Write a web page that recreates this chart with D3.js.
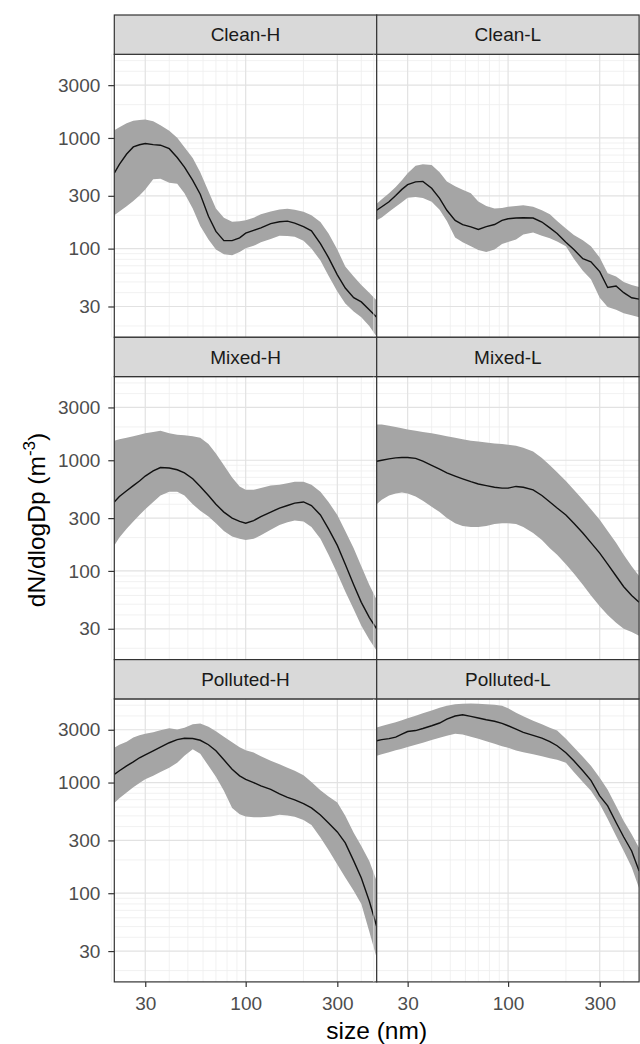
<!DOCTYPE html>
<html>
<head>
<meta charset="utf-8">
<script src="https://cdn.jsdelivr.net/npm/d3@7"></script>
<style>
  html, body { margin: 0; padding: 0; background: #fff; }
  svg { display: block; }
  text { font-family: "Liberation Sans", Arial, sans-serif; }
</style>
</head>
<body>
<svg id="chart" width="640" height="1044"></svg>
<script>
// Particle number size distributions: median and interquartile band per regime
const sizes = [20.7, 22, 24, 26, 28, 30, 33, 36, 40, 44, 48, 53, 58, 64, 70, 77, 85, 93, 100,
  110, 120, 135, 150, 165, 180, 200, 220, 245, 270, 300, 330, 365, 400, 440, 481];

const panelNames = ["Clean-H", "Clean-L", "Mixed-H", "Mixed-L", "Polluted-H", "Polluted-L"];

const cleanHMedian = [480, 578, 716, 830, 868, 890, 870, 860, 800, 666, 546, 414, 310, 196, 143, 118, 118, 125, 138,
  146, 154, 168, 175, 177, 170, 158, 145, 111, 83, 58, 44, 36, 33, 28, 24];
const cleanHLower = [200, 217, 241, 270, 302, 343, 423, 427, 394, 386, 316, 231, 160, 121, 98, 89, 87, 93, 101,
  106, 114, 122, 131, 130, 128, 118, 100, 78, 57, 41, 32, 27, 24, 20, 16];
const cleanHUpper = [1175, 1250, 1357, 1429, 1450, 1470, 1414, 1302, 1162, 1005, 824, 659, 490, 330, 231, 190, 175, 177, 180,
  190, 204, 217, 226, 229, 224, 215, 200, 174, 137, 98, 69, 56, 47, 40, 34];

const cleanLMedian = [222, 239, 265, 302, 343, 378, 401, 405, 351, 285, 222, 180, 165, 157, 149, 158, 165, 180, 186,
  189, 190, 189, 174, 154, 137, 114, 98, 81, 76, 62, 44.5, 46, 40, 36, 35];
const cleanLLower = [180, 191, 215, 239, 262, 288, 293, 286, 265, 224, 178, 126, 114, 105, 97, 93, 98, 110, 115,
  121, 134, 140, 131, 124, 116, 105, 81, 63, 53, 36, 29.7, 28, 26, 25, 24];
const cleanLUpper = [255, 279, 316, 361, 414, 479, 560, 580, 570, 489, 405, 366, 340, 316, 267, 243, 231, 233, 239,
  243, 246, 239, 222, 204, 178, 152, 133, 119, 105, 83, 60, 56, 50, 47, 45];

const mixedHMedian = [420, 470, 530, 590, 650, 720, 800, 860, 850, 820, 770, 680, 580, 480, 400, 340, 300, 280, 270,
  285, 310, 340, 370, 390, 410, 420, 390, 320, 240, 170, 115, 75, 52, 38, 30];
const mixedHLower = [170, 200, 240, 280, 320, 360, 420, 480, 520, 520, 480, 400, 350, 310, 270, 230, 205, 195, 190,
  195, 210, 235, 260, 275, 285, 280, 250, 195, 140, 95, 65, 45, 32, 24, 19];
const mixedHUpper = [1500, 1550, 1600, 1650, 1700, 1750, 1800, 1850, 1750, 1700, 1680, 1650, 1600, 1400, 1150, 900, 700, 580, 540,
  540, 560, 590, 600, 620, 640, 640, 600, 520, 420, 320, 230, 160, 110, 75, 55];

const mixedLMedian = [980, 1000, 1030, 1050, 1060, 1060, 1040, 980, 900, 830, 770, 720, 680, 640, 610, 590, 570, 560, 560,
  580, 570, 540, 480, 420, 370, 320, 270, 220, 180, 145, 115, 90, 72, 60, 52];
const mixedLLower = [400, 440, 480, 500, 510, 500, 470, 430, 380, 340, 300, 270, 255, 250, 250, 255, 265, 270, 270,
  265, 250, 220, 190, 160, 140, 115, 95, 75, 60, 48, 40, 34, 30, 28, 26];
const mixedLUpper = [2100, 2100, 2050, 2000, 1950, 1900, 1850, 1800, 1750, 1700, 1650, 1600, 1550, 1500, 1480, 1450, 1420, 1400, 1380,
  1350, 1300, 1200, 1050, 900, 780, 650, 540, 440, 360, 290, 230, 180, 140, 110, 90];

const pollutedHMedian = [1186, 1277, 1416, 1539, 1674, 1782, 1937, 2085, 2290, 2440, 2510, 2500, 2410, 2196, 1937, 1605, 1317, 1150, 1070,
  1000, 934, 868, 790, 735, 697, 644, 590, 510, 431, 358, 285, 196, 137, 85, 50];
const pollutedHLower = [655, 720, 813, 906, 993, 1070, 1150, 1248, 1359, 1508, 1745, 1998, 1820, 1416, 1127, 842, 590, 516, 494,
  485, 487, 494, 513, 505, 490, 459, 414, 318, 246, 182, 139, 105, 80, 45, 26];
const pollutedHUpper = [2062, 2196, 2338, 2556, 2673, 2758, 2844, 2969, 3096, 3012, 3130, 3370, 3425, 3200, 2906, 2590, 2316, 2085, 1959,
  1867, 1727, 1573, 1463, 1359, 1277, 1162, 1014, 851, 750, 662, 500, 351, 267, 196, 129];

const pollutedLMedian = [2384, 2440, 2494, 2570, 2740, 2890, 2950, 3080, 3260, 3450, 3750, 3995, 4100, 3960, 3830, 3690, 3580, 3425, 3260,
  3040, 2844, 2673, 2520, 2338, 2150, 1860, 1573, 1277, 1047, 758, 615, 436, 322, 241, 159];
const pollutedLLower = [1745, 1800, 1880, 1959, 2020, 2094, 2196, 2290, 2420, 2540, 2650, 2765, 2720, 2600, 2494, 2365, 2240, 2130, 2062,
  1950, 1880, 1800, 1727, 1657, 1605, 1508, 1248, 1014, 842, 641, 469, 329, 241, 172, 111];
const pollutedLUpper = [3150, 3245, 3385, 3500, 3660, 3820, 4010, 4230, 4480, 4740, 4940, 5100, 5150, 5190, 5150, 5100, 5040, 4940, 4690,
  4280, 3970, 3620, 3370, 3130, 2950, 2494, 2085, 1712, 1416, 1104, 859, 615, 450, 341, 256];

const xTicks = [30, 100, 300];
const yTicks = [30, 100, 300, 1000, 3000];
const xMinor = [20, 40, 50, 60, 70, 80, 90, 200, 400];
const yMinor = [20, 40, 50, 60, 70, 80, 90, 200, 400, 500, 600, 700, 800, 900, 2000, 4000, 5000];

const series = [
  { name: panelNames[0], median: cleanHMedian, lower: cleanHLower, upper: cleanHUpper },
  { name: panelNames[1], median: cleanLMedian, lower: cleanLLower, upper: cleanLUpper },
  { name: panelNames[2], median: mixedHMedian, lower: mixedHLower, upper: mixedHUpper },
  { name: panelNames[3], median: mixedLMedian, lower: mixedLLower, upper: mixedLUpper },
  { name: panelNames[4], median: pollutedHMedian, lower: pollutedHLower, upper: pollutedHUpper },
  { name: panelNames[5], median: pollutedLMedian, lower: pollutedLLower, upper: pollutedLUpper }
];

// Layout
const originX = 114.3, originY = 15;
const panelW = 262.4, stripH = 39.3, panelH = 283, rowH = stripH + panelH;
const tickFont = 19, titleFont = 24.5;

const x = d3.scaleLog().domain([20.7, 481]).range([0, panelW]);
const y = d3.scaleLog().domain([15.8, 5700]).range([panelH, 0]);

const svg = d3.select("#chart");

const area = d3.area()
  .x(d => x(d.s))
  .y0(d => y(d.lo))
  .y1(d => y(d.hi));
const line = d3.line()
  .x(d => x(d.s))
  .y(d => y(d.m));

series.forEach((p, i) => {
  const col = i % 2, row = Math.floor(i / 2);
  const px = originX + col * panelW;
  const sy = originY + row * rowH;
  const py = sy + stripH;
  const g = svg.append("g").attr("transform", `translate(${px},${py})`);

  g.append("rect").attr("width", panelW).attr("height", panelH).attr("fill", "#fff");

  const clipId = "clip" + i;
  g.append("clipPath").attr("id", clipId)
    .append("rect").attr("width", panelW).attr("height", panelH);

  // grid
  const grid = g.append("g");
  grid.selectAll("line.xmin").data(xMinor).join("line")
    .attr("x1", d => x(d)).attr("x2", d => x(d)).attr("y1", 0).attr("y2", panelH)
    .attr("stroke", "#ededed").attr("stroke-width", 0.8);
  grid.selectAll("line.ymin").data(yMinor).join("line")
    .attr("y1", d => y(d)).attr("y2", d => y(d)).attr("x1", 0).attr("x2", panelW)
    .attr("stroke", "#ededed").attr("stroke-width", 0.8);
  grid.selectAll("line.xmaj").data(xTicks).join("line")
    .attr("x1", d => x(d)).attr("x2", d => x(d)).attr("y1", 0).attr("y2", panelH)
    .attr("stroke", "#e2e2e2").attr("stroke-width", 1.2);
  grid.selectAll("line.ymaj").data(yTicks).join("line")
    .attr("y1", d => y(d)).attr("y2", d => y(d)).attr("x1", 0).attr("x2", panelW)
    .attr("stroke", "#e2e2e2").attr("stroke-width", 1.2);

  const data = sizes.map((s, k) => ({ s, m: p.median[k], lo: p.lower[k], hi: p.upper[k] }));
  const plot = g.append("g").attr("clip-path", `url(#${clipId})`);
  plot.append("path").datum(data).attr("d", area).attr("fill", "#a5a5a5");
  plot.append("path").datum(data).attr("d", line)
    .attr("fill", "none").attr("stroke", "#111").attr("stroke-width", 1.4);

  g.append("rect").attr("width", panelW).attr("height", panelH)
    .attr("fill", "none").attr("stroke", "#333").attr("stroke-width", 1.2);

  // strip
  const st = svg.append("g").attr("transform", `translate(${px},${sy})`);
  st.append("rect").attr("width", panelW).attr("height", stripH)
    .attr("fill", "#d9d9d9").attr("stroke", "#333").attr("stroke-width", 1.2);
  st.append("text").attr("x", panelW / 2).attr("y", stripH / 2 + 6.8)
    .attr("text-anchor", "middle").attr("font-size", tickFont).attr("fill", "#1a1a1a")
    .text(p.name);

  // y axis on left column
  if (col === 0) {
    const ax = svg.append("g").attr("transform", `translate(${px},${py})`)
      .call(d3.axisLeft(y).tickValues(yTicks).tickFormat(d3.format("d")).tickSize(6).tickPadding(8));
    ax.select(".domain").remove();
    ax.selectAll(".tick line").attr("stroke", "#333").attr("stroke-width", 1.2);
    ax.selectAll(".tick text").attr("font-size", tickFont).attr("fill", "#4d4d4d")
      .attr("font-family", "Liberation Sans, Arial, sans-serif");
  }
  // x axis on bottom row
  if (row === 2) {
    const ax = svg.append("g").attr("transform", `translate(${px},${py + panelH})`)
      .call(d3.axisBottom(x).tickValues(xTicks).tickFormat(d3.format("d")).tickSize(5).tickPadding(10));
    ax.select(".domain").remove();
    ax.selectAll(".tick line").attr("stroke", "#333").attr("stroke-width", 1.2);
    ax.selectAll(".tick text").attr("font-size", tickFont).attr("fill", "#4d4d4d")
      .attr("font-family", "Liberation Sans, Arial, sans-serif");
  }
});

// axis titles
svg.append("text")
  .attr("x", originX + panelW).attr("y", 1039)
  .attr("text-anchor", "middle").attr("font-size", titleFont).attr("fill", "#000")
  .text("size (nm)");

const yt = svg.append("text")
  .attr("transform", "translate(45,520) rotate(-90)")
  .attr("text-anchor", "middle").attr("font-size", titleFont).attr("fill", "#000");
yt.append("tspan").text("dN/dlogDp (m");
yt.append("tspan").attr("dy", -10).attr("font-size", 17).text("-3");
yt.append("tspan").attr("dy", 10).text(")");
</script>
</body>
</html>
